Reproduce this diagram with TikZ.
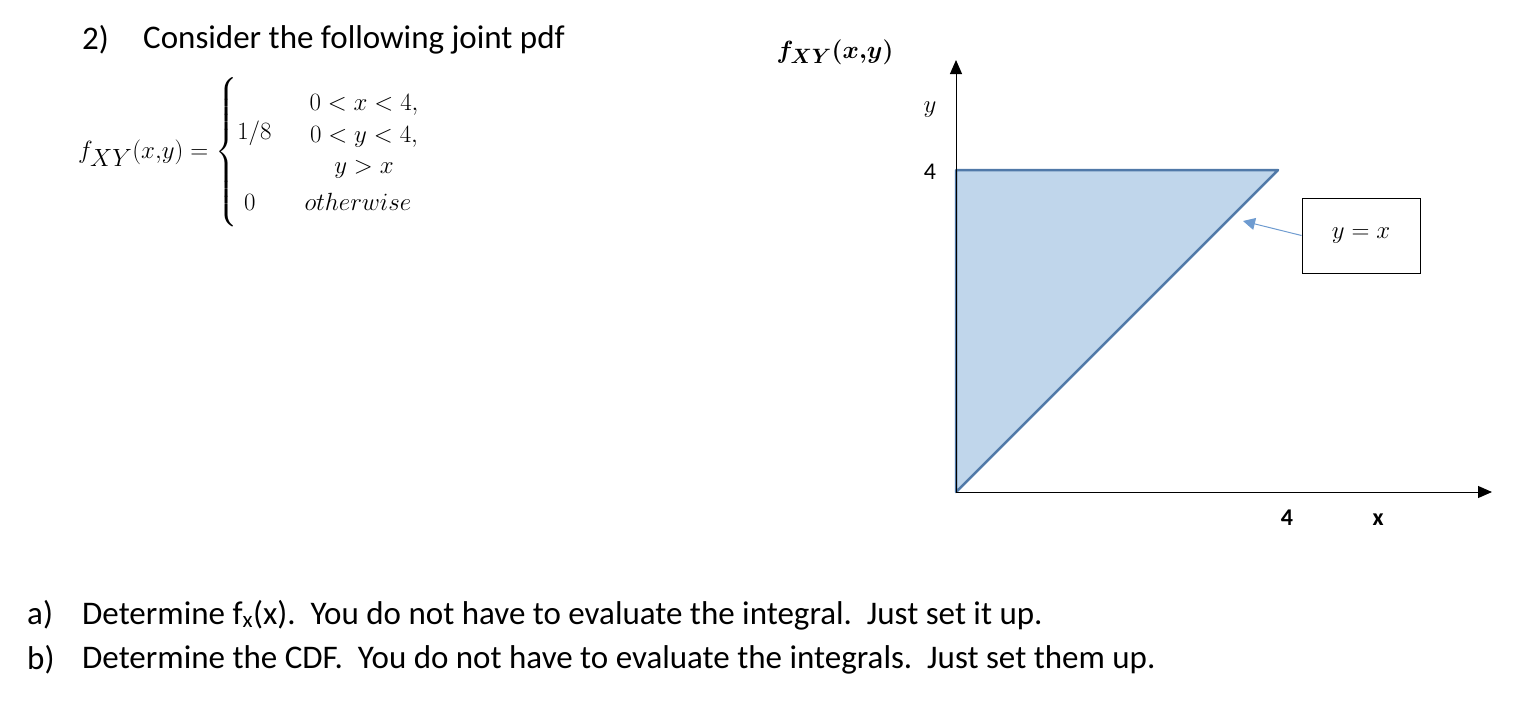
\documentclass[tikz,border=0pt]{standalone}
\usepackage{amsmath}
\usepackage{fontspec}
\setmainfont{Carlito}
\usetikzlibrary{arrows.meta}
\definecolor{fillb}{HTML}{C0D6EB}
\definecolor{edgeb}{HTML}{5079A8}
\definecolor{arrb}{HTML}{6E9BD0}
\begin{document}
\begin{tikzpicture}[x=1pt,y=-1pt,
  txt/.style={anchor=west,inner sep=0pt,font=\fontsize{33}{39}\selectfont},
  mth/.style={inner sep=0pt,font=\fontsize{28}{32}\selectfont}]
\useasboundingbox (0,0) rectangle (1516,702);
\node[txt] (n2) at (82,40) {2)};
\node[txt] (cons) at (143,40) {Consider the following joint pdf};
\node[inner sep=0pt,anchor=west,font=\fontsize{33}{36}\selectfont] (eq) at (78,152) {$f_{XY}(x{,}y)=\begin{cases}1/8 & \begin{array}{c}0<x<4,\\[-12pt]0<y<4,\\[-12pt]y>x\end{array}\\[-6pt] \;0 & otherwise\end{cases}$};
\node[mth] (title) at (835,52) {$\boldsymbol{f_{XY}(x{,}y)}$};
\coordinate (o) at (956,492);
\coordinate (tl) at (956,170);
\coordinate (tr) at (1278,170);
\draw[edgeb,line width=2.5pt,fill=fillb,line join=round] (o) -- (tl) -- (tr) -- cycle;
\draw[line width=1pt,-{Triangle[length=14pt,width=12pt]}] (o) -- (956,60) coordinate (ytop);
\draw[line width=1pt,-{Triangle[length=14pt,width=12pt]}] (o) -- (1492,492) coordinate (xend);
\node[mth] (ylab) at (930,110) {$y$};
\node[inner sep=0pt,font=\fontsize{24}{28}\selectfont] (y4) at (930,172) {4};
\node[inner sep=0pt,font=\bfseries\fontsize{24}{28}\selectfont] (x4) at (1287,518) {4};
\node[inner sep=0pt,font=\bfseries\fontsize{24}{28}\selectfont] (xlab) at (1378,520) {x};
\node[draw,line width=1pt,minimum width=118pt,minimum height=75pt,mth] (box) at (1361,235.5) {$y=x$};
\draw[arrb,line width=1pt,-{Triangle[length=12pt,width=12pt]}] (box.west) -- (1243,221) coordinate (tip);
\node[txt] (a) at (27,615) {a)};
\node[txt] (at) at (82,615) {Determine f\textsubscript{x}(x).\ \ You do not have to evaluate the integral.\ \ Just set it up.};
\node[txt] (b) at (27,660) {b)};
\node[txt] (bt) at (82,660) {Determine the CDF.\ \ You do not have to evaluate the integrals.\ \ Just set them up.};
\end{tikzpicture}
\end{document}
